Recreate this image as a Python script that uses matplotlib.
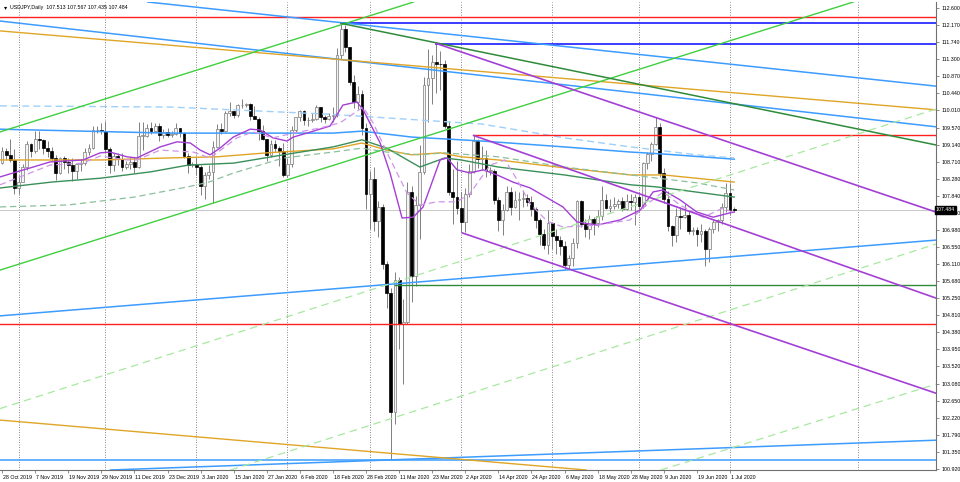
import matplotlib.pyplot as plt
import matplotlib.transforms as mtransforms
import numpy as np

plt.rcParams['font.family'] = ['Liberation Sans', 'DejaVu Sans']

#%% USDJPY daily bars, 28 Oct 2019 .. 2 Jul 2020 (one entry per trading day)
opens = [108.67,108.97,108.88,108.76,108.03,108.20,108.58,109.16,108.97,109.28,
         109.26,109.06,108.98,108.81,108.43,108.80,108.69,108.61,108.46,108.64,
         108.67,108.95,109.05,109.50,109.52,109.48,109.02,108.61,108.86,108.77,
         108.58,108.64,108.70,108.56,109.36,109.36,109.57,109.48,109.60,109.39,
         109.45,109.37,109.40,109.55,109.44,108.85,108.61,108.64,108.57,108.09,
         108.37,108.45,109.09,109.53,109.49,109.94,109.98,109.89,110.14,110.14,
         110.17,109.87,109.80,109.48,109.28,108.87,109.16,109.05,108.98,108.37,
         108.66,109.52,109.83,109.99,109.75,109.77,109.80,110.08,109.83,109.78,
         109.86,109.90,111.40,112.08,111.60,110.73,110.22,110.42,109.56,107.89,
         108.28,107.21,107.55,106.12,105.39,102.37,105.70,104.60,104.65,107.95,
         105.82,107.60,108.45,110.65,110.82,111.23,111.19,111.17,109.60,107.94,
         107.80,107.53,107.18,107.90,108.48,109.24,108.77,108.80,108.48,108.48,
         107.74,107.24,107.48,107.95,107.55,107.74,107.75,107.78,107.69,107.50,
         107.23,106.88,106.59,107.16,106.82,106.71,106.58,106.08,106.27,106.65,
         107.71,107.14,107.01,107.26,107.15,107.34,107.74,107.54,107.58,107.64,
         107.72,107.52,107.72,107.68,107.82,107.59,108.68,108.89,109.15,109.58,
         108.43,107.76,107.08,106.86,107.34,107.31,107.36,106.94,106.97,106.88,
         106.94,106.50,107.01,107.18,107.22,107.57,107.92,107.513]
highs = [109.07,109.05,109.29,109.02,108.37,108.66,109.23,109.18,109.49,109.48,
         109.27,109.24,109.08,108.88,108.83,108.86,108.80,108.81,108.68,108.78,
         109.05,109.16,109.61,109.61,109.68,109.73,109.08,108.92,108.92,108.93,
         108.72,108.83,108.80,109.70,109.70,109.65,109.72,109.69,109.69,109.53,
         109.55,109.49,109.68,109.57,109.47,108.93,108.70,108.86,108.62,108.44,
         108.62,109.24,109.65,109.69,110.00,110.22,110.00,110.16,110.29,110.20,
         110.20,110.11,109.85,109.63,109.28,109.25,109.26,109.10,109.19,108.80,
         109.60,109.85,110.02,110.01,109.85,109.93,110.14,110.09,109.89,109.95,
         110.10,111.59,112.23,112.18,111.61,110.91,110.62,110.51,109.68,108.47,
         108.58,107.70,107.63,106.18,105.50,105.91,105.78,105.23,108.20,108.08,
         107.84,109.14,110.84,111.56,111.40,111.71,111.52,111.27,109.74,108.52,
         108.72,107.94,108.05,108.66,109.38,109.27,109.11,109.00,108.58,108.53,
         107.82,107.64,108.09,108.07,107.96,107.95,107.98,107.89,107.84,107.56,
         107.27,106.99,107.49,107.16,107.00,106.82,106.70,106.35,106.77,107.74,
         107.74,107.26,107.35,107.30,107.49,108.08,107.90,107.75,107.82,107.77,
         107.81,107.90,107.89,107.88,107.86,108.70,108.96,109.20,109.85,109.69,
         108.55,107.97,107.10,107.53,107.55,107.64,107.45,107.04,107.06,107.14,
         106.99,107.05,107.24,107.25,107.66,108.16,108.16,107.567]
lows = [108.64,108.74,108.69,107.89,107.88,108.19,108.50,108.82,108.92,109.04,
        108.90,108.83,108.73,108.24,108.39,108.51,108.42,108.22,108.27,108.48,
        108.63,108.87,109.03,109.43,109.40,108.93,108.43,108.48,108.61,108.47,
        108.51,108.52,108.43,108.55,108.99,109.32,109.42,109.46,109.23,109.30,
        109.32,109.32,109.37,109.32,108.81,108.42,108.57,108.38,107.85,107.77,
        108.27,107.65,109.06,109.40,109.45,109.86,109.82,109.84,110.07,110.08,
        109.76,109.80,109.26,109.26,108.73,108.83,108.95,108.59,108.31,108.31,
        108.57,109.47,109.73,109.63,109.62,109.71,109.77,109.71,109.69,109.75,
        109.71,109.85,111.31,111.49,110.66,110.07,110.05,109.38,107.50,106.99,
        106.95,106.80,105.99,105.01,101.18,102.07,103.97,103.08,104.60,105.15,
        105.56,106.76,108.40,109.70,110.16,110.44,110.52,109.56,107.85,107.12,
        107.38,106.93,106.92,107.80,108.42,108.55,108.49,108.31,108.36,107.63,
        106.95,106.84,107.46,107.36,107.53,107.24,107.55,107.59,107.33,107.03,
        106.60,106.49,106.36,106.49,106.36,106.33,105.99,105.99,106.07,106.51,
        107.05,106.80,106.75,106.86,107.06,107.23,107.52,107.43,107.52,107.54,
        107.45,107.49,107.49,107.09,107.44,107.53,108.52,108.73,109.13,108.33,
        107.65,106.96,106.58,106.68,106.99,107.27,106.87,106.84,106.56,106.66,
        106.07,106.17,106.90,106.95,107.12,107.43,107.36,107.435]
closes = [108.97,108.88,108.76,108.03,108.20,108.58,109.16,108.97,109.28,109.26,
          109.06,108.98,108.81,108.43,108.80,108.69,108.61,108.46,108.64,108.67,
          108.95,109.05,109.50,109.52,109.48,109.02,108.61,108.86,108.77,108.58,
          108.64,108.70,108.56,109.36,109.36,109.57,109.48,109.60,109.39,109.45,
          109.37,109.40,109.55,109.44,108.85,108.61,108.64,108.57,108.09,108.37,
          108.45,109.09,109.53,109.49,109.94,109.98,109.89,110.14,110.14,110.17,
          109.87,109.80,109.48,109.28,108.87,109.16,109.05,108.98,108.37,108.66,
          109.52,109.83,109.99,109.75,109.77,109.80,110.08,109.83,109.78,109.86,
          109.90,111.40,112.08,111.60,110.73,110.22,110.42,109.56,107.89,108.28,
          107.21,107.55,106.12,105.39,102.37,105.70,104.60,104.65,107.95,105.82,
          107.60,108.45,110.65,110.82,111.23,111.19,111.17,109.60,107.94,107.80,
          107.53,107.18,107.90,108.48,109.24,108.77,108.80,108.48,108.48,107.74,
          107.24,107.48,107.95,107.55,107.74,107.75,107.78,107.69,107.50,107.23,
          106.88,106.59,107.16,106.82,106.71,106.58,106.08,106.27,106.65,107.71,
          107.14,107.01,107.26,107.15,107.34,107.74,107.54,107.58,107.64,107.72,
          107.52,107.72,107.68,107.82,107.59,108.68,108.89,109.15,109.58,108.43,
          107.76,107.08,106.86,107.34,107.31,107.36,106.94,106.97,106.88,106.94,
          106.50,107.01,107.18,107.22,107.57,107.92,107.47,107.484]

date_labels = ['28 Oct 2019','7 Nov 2019','19 Nov 2019','29 Nov 2019','11 Dec 2019',
               '23 Dec 2019','3 Jan 2020','15 Jan 2020','27 Jan 2020','6 Feb 2020',
               '18 Feb 2020','28 Feb 2020','11 Mar 2020','23 Mar 2020','2 Apr 2020',
               '14 Apr 2020','24 Apr 2020','6 May 2020','18 May 2020','28 May 2020',
               '9 Jun 2020','19 Jun 2020','1 Jul 2020']
date_bars = list(range(0, 177, 8))
grid_bars = [4, 25, 47, 69, 89, 111, 133, 154, 176, 207]   # month starts

price_ticks = [112.600,112.170,111.740,111.300,110.870,110.440,110.010,109.570,
               109.140,108.710,108.280,107.840,107.410,106.980,106.550,106.110,
               105.680,105.250,104.810,104.380,103.950,103.520,103.080,102.650,
               102.220,101.790,101.350,100.920]
last_price = 107.484

#%% moving averages (bar, price)
blue_ma_bars = [-0.5, 40, 80, 87, 99, 116, 136, 152, 160, 177]
blue_ma_vals = [109.53, 109.43, 109.43, 109.48, 109.33, 109.23, 109.08, 108.95, 108.90, 108.77]
lblue_ma_bars = [-0.5, 41, 79, 116, 136, 152, 168, 177]
lblue_ma_vals = [110.12, 110.09, 109.91, 109.66, 109.31, 109.08, 108.88, 108.80]
gold_ma_bars = [-0.5, 24, 40, 52, 64, 80, 87, 93, 99, 106, 111, 120, 136, 152, 160, 177]
gold_ma_vals = [108.75, 108.75, 108.80, 108.83, 108.93, 109.03, 109.18, 109.00, 108.88,
                108.93, 108.83, 108.75, 108.55, 108.37, 108.37, 108.19]
green_ma_bars = [-0.5, 12, 24, 36, 45, 56, 68, 80, 87, 93, 101, 107, 111, 120, 136, 152, 158, 164, 177]
green_ma_vals = [108.04, 108.19, 108.29, 108.45, 108.62, 108.67, 108.88, 109.08, 109.26, 109.05,
                 108.57, 108.80, 108.75, 108.57, 108.37, 108.12, 108.07, 107.99, 107.81]
gdash_ma_bars = [-0.5, 16, 32, 45, 50, 56, 68, 80, 87, 93, 101, 107, 120, 136, 156, 168, 177]
gdash_ma_vals = [107.56, 107.61, 107.81, 108.07, 108.19, 108.42, 108.80, 108.95, 109.05, 108.95,
                 108.88, 108.93, 108.83, 108.57, 108.32, 108.17, 107.99]
pur_ma_bars = [-0.5, 3.6, 7.5, 11.6, 19.6, 23.7, 26.1, 30.2, 32.6, 38.2, 42.3, 45.5, 47.9, 50.3,
               52.7, 55.9, 60, 62.4, 65.5, 68.9, 70.4, 73.7, 79.3, 82.4, 85.8, 87.3, 91.4, 93.8,
               96.7, 99.4, 101.8, 105.9, 107.6, 110, 113.2, 116.3, 119.7, 123.5, 127.7, 131.8,
               135.6, 139, 143.9, 149.4, 154.3, 157.4, 159.8, 163.9, 168, 171.9, 176, 177]
pur_ma_vals = [108.32, 108.45, 108.57, 108.70, 108.75, 108.93, 108.95, 108.83, 108.80, 109.08,
               109.21, 109.18, 109.00, 108.88, 109.05, 109.33, 109.53, 109.51, 109.31, 109.23,
               109.33, 109.43, 109.61, 110.14, 110.22, 110.02, 109.18, 108.42, 107.28, 107.30,
               107.56, 108.75, 108.80, 108.50, 108.42, 108.50, 108.37, 108.19, 108.04, 107.79,
               107.56, 107.18, 107.10, 107.23, 107.48, 107.94, 107.99, 107.74, 107.43, 107.30,
               107.41, 107.43]
pdash_ma_bars = [-0.5, 3.6, 7.5, 11.6, 19.6, 23.7, 30.2, 32.6, 38.2, 46.2, 50.3, 56.8, 60.7, 65.5,
                 70.4, 76.9, 81.7, 87.3, 89.7, 93.1, 97.9, 101.1, 105.2, 110, 113.2, 118, 121.6,
                 124.5, 127.7, 131.8, 135.6, 143.9, 151.8, 156.7, 159.8, 163.9, 169.5, 174.3, 177]
pdash_ma_vals = [108.12, 108.29, 108.45, 108.62, 108.67, 108.85, 108.75, 108.75, 109.00, 108.95,
                 108.80, 109.31, 109.46, 109.31, 109.43, 109.56, 109.69, 110.09, 109.69, 108.93,
                 107.91, 107.61, 107.69, 107.69, 107.91, 108.62, 108.75, 108.25, 107.63, 107.20,
                 107.05, 107.10, 107.23, 107.69, 107.94, 107.61, 107.30, 107.53, 107.41]

#%% drawn objects: (bar0, price0, bar1, price1)
red_full = [112.38, 104.59]
red_apr = (114, 109.37)
blue_highs = [(82, 112.21), (105, 111.70)]
green_level = (95, 105.58)
dodger_low = 101.15
# infinite trend lines (two points each)
blue_lines = [(30.9, 112.80, 225.8, 110.62), (-0.5, 112.27, 225.8, 109.59),
              (-0.5, 104.80, 225.8, 106.72), (19.6, 100.87, 225.8, 101.65)]
gold_lines = [(-0.5, 112.02, 225.8, 110.02), (-0.5, 102.16, 225.8, 100.14)]
lime_lines = [(-0.5, 109.46, 225.8, 116.91), (-0.5, 105.96, 225.8, 113.41)]
lgreen_lines = [(-0.5, 102.45, 225.8, 110.04), (55.1, 100.89, 225.8, 106.62),
                (159.1, 100.89, 225.8, 103.07)]
# rays starting at a pivot
dkgreen_ray = (82, 112.21, 225.8, 109.13)
purple_rays = [(105, 111.70, 225.8, 107.43), (114, 109.37, 225.8, 105.25),
               (111.3, 106.90, 225.8, 102.84)]

x_left, x_right = -0.5, 225.8
y_low, y_high = 100.895, 112.752

#%% figure
fig = plt.figure(figsize=(9.6, 4.82), dpi=100)
ax = fig.add_axes([0, 12/482, 936/960, 468/482])
ax.set_xlim(x_left, x_right)
ax.set_ylim(y_low, y_high)

o = np.array(opens); h = np.array(highs); l = np.array(lows); c = np.array(closes)
bars = np.arange(len(c))
up = c >= o

# grid
for gb in grid_bars:
    ax.axvline(gb, color='#606060', lw=0.6, ls=(0, (1, 2)), zorder=0)

# candles
ax.vlines(bars, l, h, color='#808080', lw=0.7, zorder=2)
body = np.maximum(np.abs(c - o), 0.012)
ax.bar(bars[up], body[up], bottom=o[up], width=0.68, color='#f4f4f4',
       edgecolor='#7a7a7a', lw=0.5, zorder=2.1)
ax.bar(bars[~up], body[~up], bottom=c[~up], width=0.68, color='black',
       edgecolor='black', lw=0.5, zorder=2.1)

# bid line
ax.axhline(last_price, color='#c8c8c8', lw=0.7, zorder=1)

# moving averages
ax.plot(blue_ma_bars, blue_ma_vals, color='#3c9cff', lw=1.1, zorder=3)
ax.plot(lblue_ma_bars, lblue_ma_vals, color='#9fd0fa', lw=1.0, ls=(0, (5, 3)), zorder=3)
ax.plot(gold_ma_bars, gold_ma_vals, color='#e0a526', lw=1.0, zorder=3)
ax.plot(green_ma_bars, green_ma_vals, color='#3a8f5a', lw=1.0, zorder=3)
ax.plot(gdash_ma_bars, gdash_ma_vals, color='#8cc09c', lw=0.9, ls=(0, (5, 3)), zorder=3)
ax.plot(pur_ma_bars, pur_ma_vals, color='#a43fd6', lw=1.0, zorder=3)
ax.plot(pdash_ma_bars, pdash_ma_vals, color='#cf95ea', lw=0.9, ls=(0, (5, 3)), zorder=3)

# horizontal levels
for p in red_full:
    ax.axhline(p, color='#ff2020', lw=1.0, zorder=4)
ax.plot([red_apr[0], x_right], [red_apr[1]] * 2, color='#ff2020', lw=1.0, zorder=4)
for b0, p in blue_highs:
    ax.plot([b0, x_right], [p, p], color='#1a1aff', lw=1.2, zorder=4)
ax.plot([green_level[0], x_right], [green_level[1]] * 2, color='#2e8b3a', lw=1.0, zorder=4)
ax.axhline(dodger_low, color='#3c9cff', lw=1.1, zorder=4)

# trend lines
for b0, p0, b1, p1 in blue_lines:
    ax.axline((b0, p0), (b1, p1), color='#3c9cff', lw=1.1, zorder=4)
for b0, p0, b1, p1 in gold_lines:
    ax.axline((b0, p0), (b1, p1), color='#e0a526', lw=1.0, zorder=4)
for b0, p0, b1, p1 in lime_lines:
    ax.axline((b0, p0), (b1, p1), color='#3fcf3f', lw=1.0, zorder=4)
for b0, p0, b1, p1 in lgreen_lines:
    ax.axline((b0, p0), (b1, p1), color='#a8e8a0', lw=0.9, ls=(0, (6, 4)), zorder=4)
b0, p0, b1, p1 = dkgreen_ray
ax.plot([b0, b1], [p0, p1], color='#2e8b3a', lw=1.1, zorder=4)
for b0, p0, b1, p1 in purple_rays:
    ax.plot([b0, b1], [p0, p1], color='#a43fd6', lw=1.2, zorder=4)

# axes styling
for s in ['top', 'left']:
    ax.spines[s].set_visible(False)
for s in ['right', 'bottom']:
    ax.spines[s].set_color('#707070')
    ax.spines[s].set_linewidth(0.8)

ax.yaxis.tick_right()
ax.set_yticks(price_ticks)
ax.set_yticklabels(['%.3f' % t for t in price_ticks])
ax.set_xticks(date_bars)
ax.set_xticklabels(date_labels, ha='left')
ax.tick_params(axis='y', labelsize=3.8, length=2.5, width=0.5, color='#606060', pad=1.5)
ax.tick_params(axis='x', labelsize=3.8, length=2.5, width=0.5, color='#606060', pad=1)
for t in ax.get_xticklabels():
    t.set_transform(t.get_transform() + mtransforms.ScaledTranslation(1/100, 0, fig.dpi_scale_trans))

# header
ax.text(0.004, 0.993, '\u25be', transform=ax.transAxes, fontsize=4.5, va='top', ha='left',
        family=['DejaVu Sans'])
ax.text(0.011, 0.994, 'USDJPY,Daily  107.513 107.567 107.435 107.484', transform=ax.transAxes,
        fontsize=3.8, va='top', ha='left')

# last price box
trans = mtransforms.blended_transform_factory(ax.transAxes, ax.transData)
ax.text(1.0, last_price, '107.484', transform=trans, fontsize=3.8, color='white',
        va='center', ha='left', zorder=6,
        bbox=dict(boxstyle='square,pad=0.25', fc='black', ec='black'))

fig.savefig('out.png', dpi=100)
